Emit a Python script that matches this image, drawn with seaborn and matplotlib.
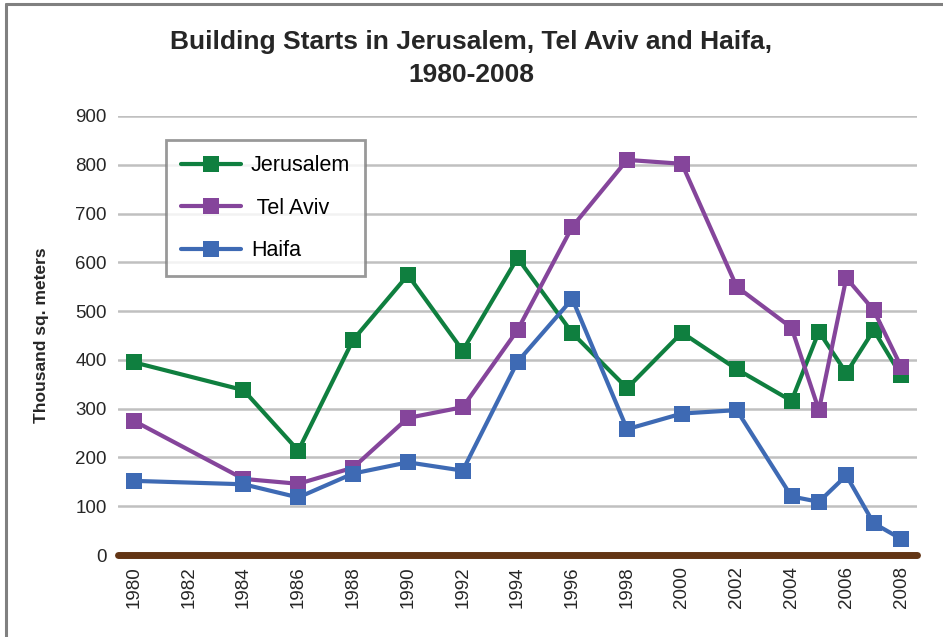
import matplotlib
matplotlib.use("Agg")
import matplotlib.pyplot as plt
import pandas as pd
import seaborn as sns
from matplotlib.lines import Line2D

# Building starts, thousand square meters
years = [1980, 1984, 1986, 1988, 1990, 1992, 1994, 1996, 1998,
         2000, 2002, 2004, 2005, 2006, 2007, 2008]
jerusalem = [395, 338, 214, 441, 574, 419, 609, 455, 342,
             456, 381, 316, 458, 373, 461, 368]
tel_aviv = [275, 156, 146, 179, 281, 303, 461, 673, 810,
            802, 550, 466, 297, 568, 502, 386]
haifa = [152, 145, 118, 167, 190, 173, 396, 525, 258,
         290, 297, 120, 109, 163, 65, 33]
series_names = ["Jerusalem", " Tel Aviv", "Haifa"]
series_colors = ["#0f7f3f", "#85459b", "#3e6ab4"]
x_ticks = list(range(1980, 2009, 2))
y_ticks = list(range(0, 901, 100))

df = pd.DataFrame({
    "year": years * 3,
    "value": jerusalem + tel_aviv + haifa,
    "city": [n for n in series_names for _ in years],
})

sns.set_theme(style="white")
plt.rcParams["font.family"] = ["Liberation Sans", "DejaVu Sans"]

fig = plt.figure(figsize=(9.43, 6.37), dpi=100)
ax = fig.add_axes([118 / 943, 1 - 555 / 637, (917 - 118) / 943, (555 - 116) / 637])

palette = dict(zip(series_names, series_colors))
sns.lineplot(data=df, x="year", y="value", hue="city", hue_order=series_names,
             palette=palette, marker="s", markersize=11.5, markeredgewidth=0,
             linewidth=3.0, ax=ax, legend=False, zorder=3)

ax.set_xlim(1979.42, 2008.58)
ax.set_ylim(0, 900)
ax.set_xticks(x_ticks)
ax.set_xticklabels([str(t) for t in x_ticks], rotation=90, fontsize=13.5)
ax.set_yticks(y_ticks)
ax.set_yticklabels([str(t) for t in y_ticks], fontsize=13.5)
ax.tick_params(axis="both", length=0)
ax.tick_params(axis="y", pad=8)
ax.tick_params(axis="x", pad=8)
ax.grid(axis="y", color="#c0c0c0", linewidth=1.8, zorder=0)
ax.grid(axis="x", visible=False)
for side in ["left", "right", "top", "bottom"]:
    ax.spines[side].set_visible(False)

# brown baseline along zero
ax.axhline(0, color="#633514", linewidth=5, solid_capstyle="round",
           clip_on=False, zorder=2)

ax.set_xlabel("")
ax.set_ylabel("Thousand sq. meters", fontsize=12.5, fontweight="bold", labelpad=19)

fig.suptitle("Building Starts in Jerusalem, Tel Aviv and Haifa,\n1980-2008",
             x=0.5, y=1 - 30 / 637, fontsize=19, fontweight="bold",
             linespacing=1.45, va="top")

handles = [Line2D([0], [0], color=c, linewidth=3.0, marker="s",
                  markersize=11.5, markeredgewidth=0) for c in series_colors]
leg = fig.legend(handles, series_names, loc="upper left",
                 bbox_to_anchor=(166 / 943, 1 - 140 / 637),
                 fontsize=15.5, frameon=True, fancybox=False,
                 handlelength=2.8, handletextpad=0.45, labelspacing=1.0,
                 borderpad=0.7, borderaxespad=0)
leg.get_frame().set_edgecolor("#808080")
leg.get_frame().set_linewidth(2)
for t in leg.get_texts():
    t.set_color("#000000")

# outer frame on the left and top edges
fig.add_artist(Line2D([6 / 943, 6 / 943], [0, 1 - 4 / 637],
                      transform=fig.transFigure, color="#808080", linewidth=2.2))
fig.add_artist(Line2D([6 / 943, 1], [1 - 4 / 637, 1 - 4 / 637],
                      transform=fig.transFigure, color="#808080", linewidth=2.2))

fig.savefig("out.png", dpi=100)
